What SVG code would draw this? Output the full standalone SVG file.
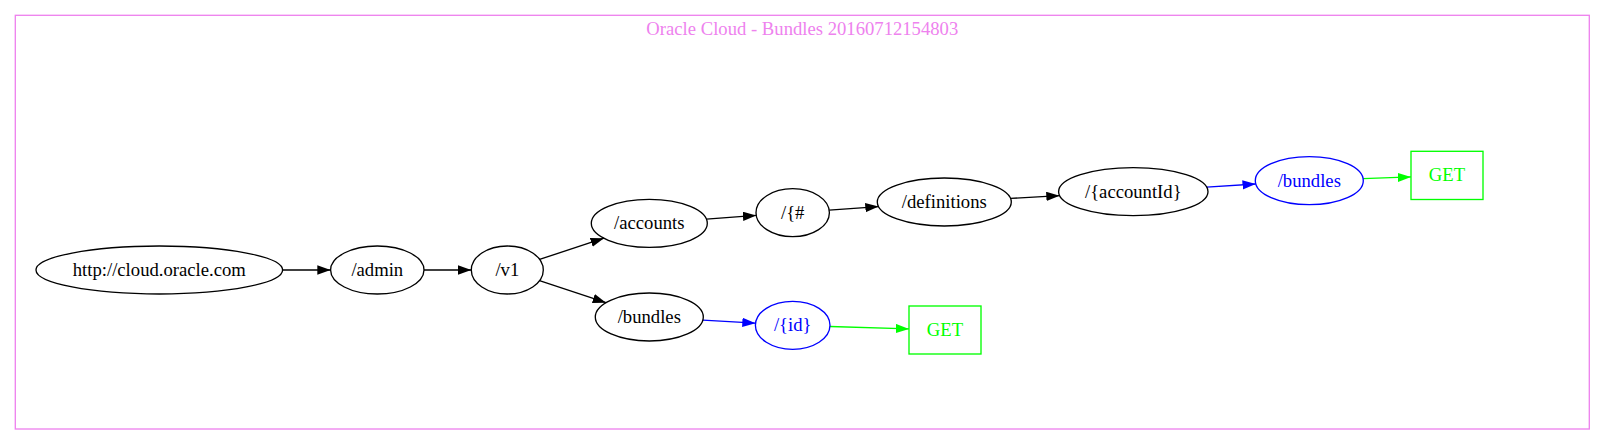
<svg xmlns="http://www.w3.org/2000/svg" width="1606" height="445" viewBox="0 0 1606 445">
<style>
text{font-family:"Liberation Serif","Times New Roman",serif;font-size:18.67px;text-anchor:middle}
.n ellipse,.n rect{fill:none;stroke-width:1.33}
.k ellipse{stroke:#000}
.k text{fill:#000}
.b ellipse{stroke:#0000ff}
.b text{fill:#0000ff}
.g rect{stroke:#00ff00}
.g text{fill:#00ff00}
.e line{stroke-width:1.33;fill:none}
.ek{stroke:#000}
.eb{stroke:#0000ff}
.eg{stroke:#00ff00}
</style>
<defs>
<marker id="ak" markerUnits="userSpaceOnUse" markerWidth="14" markerHeight="10" refX="13.3" refY="4.67" orient="auto"><path d="M0,0L13.3,4.67L0,9.33z" fill="#000"/></marker>
<marker id="ab" markerUnits="userSpaceOnUse" markerWidth="14" markerHeight="10" refX="13.3" refY="4.67" orient="auto"><path d="M0,0L13.3,4.67L0,9.33z" fill="#0000ff"/></marker>
<marker id="ag" markerUnits="userSpaceOnUse" markerWidth="14" markerHeight="10" refX="13.3" refY="4.67" orient="auto"><path d="M0,0L13.3,4.67L0,9.33z" fill="#00ff00"/></marker>
</defs>
<rect width="1606" height="445" fill="#fff"/>
<g id="cluster">
<rect x="15.3" y="15.3" width="1574" height="413.7" fill="none" stroke="#ee82ee" stroke-width="1.33"/>
<text x="802.3" y="35.3" fill="#ee82ee">Oracle Cloud - Bundles 20160712154803</text>
</g>
<g id="connectors" class="e">
<line class="ek" x1="282.6" y1="270" x2="330.6" y2="270" marker-end="url(#ak)"/>
<line class="ek" x1="424" y1="270" x2="471.3" y2="270" marker-end="url(#ak)"/>
<line class="ek" x1="539.6" y1="259.4" x2="603.9" y2="238.2" marker-end="url(#ak)"/>
<line class="ek" x1="539.5" y1="280.7" x2="606" y2="302.7" marker-end="url(#ak)"/>
<line class="ek" x1="706.4" y1="219.1" x2="756.2" y2="215.4" marker-end="url(#ak)"/>
<line class="eb" x1="702.9" y1="320.1" x2="755.6" y2="323.15" marker-end="url(#ab)"/>
<line class="ek" x1="829.2" y1="210.1" x2="878.6" y2="206.6" marker-end="url(#ak)"/>
<line class="eg" x1="830" y1="326.5" x2="909" y2="328.9" marker-end="url(#ag)"/>
<line class="ek" x1="1010.5" y1="198.4" x2="1059.6" y2="195.7" marker-end="url(#ak)"/>
<line class="eb" x1="1206.6" y1="187.1" x2="1255.8" y2="184" marker-end="url(#ab)"/>
<line class="eg" x1="1363.1" y1="178.7" x2="1411" y2="176.9" marker-end="url(#ag)"/>
</g>
<g id="node_root" class="n k"><ellipse cx="159.3" cy="270" rx="123.3" ry="24"/><text x="159.3" y="275.8">http://cloud.oracle.com</text></g>
<g id="node_admin" class="n k"><ellipse cx="377.3" cy="270" rx="46.7" ry="24"/><text x="377.3" y="275.8">/admin</text></g>
<g id="node_v1" class="n k"><ellipse cx="507.3" cy="270" rx="36" ry="24"/><text x="507.3" y="275.8">/v1</text></g>
<g id="node_accounts" class="n k"><ellipse cx="649.3" cy="223.3" rx="58" ry="24"/><text x="649.3" y="229.1">/accounts</text></g>
<g id="node_bundles" class="n k"><ellipse cx="649.3" cy="317" rx="54" ry="24"/><text x="649.3" y="322.8">/bundles</text></g>
<g id="node_hash" class="n k"><ellipse cx="792.7" cy="212.7" rx="36.7" ry="24"/><text x="792.7" y="218.5">/{#</text></g>
<g id="node_id" class="n b"><ellipse cx="792.7" cy="325.3" rx="37.3" ry="24"/><text x="792.7" y="331.1">/{id}</text></g>
<g id="node_definitions" class="n k"><ellipse cx="944.3" cy="202" rx="67" ry="24"/><text x="944.3" y="207.8">/definitions</text></g>
<g id="node_get_id" class="n g"><rect x="909" y="306" width="72" height="48"/><text x="945" y="335.8">GET</text></g>
<g id="node_accountId" class="n k"><ellipse cx="1133.3" cy="191.7" rx="74.7" ry="24"/><text x="1133.3" y="197.5">/{accountId}</text></g>
<g id="node_bundles2" class="n b"><ellipse cx="1309.3" cy="180.7" rx="54" ry="24"/><text x="1309.3" y="186.5">/bundles</text></g>
<g id="node_get_bundles" class="n g"><rect x="1411" y="151.3" width="72" height="48.2"/><text x="1447" y="181.3">GET</text></g>
</svg>
